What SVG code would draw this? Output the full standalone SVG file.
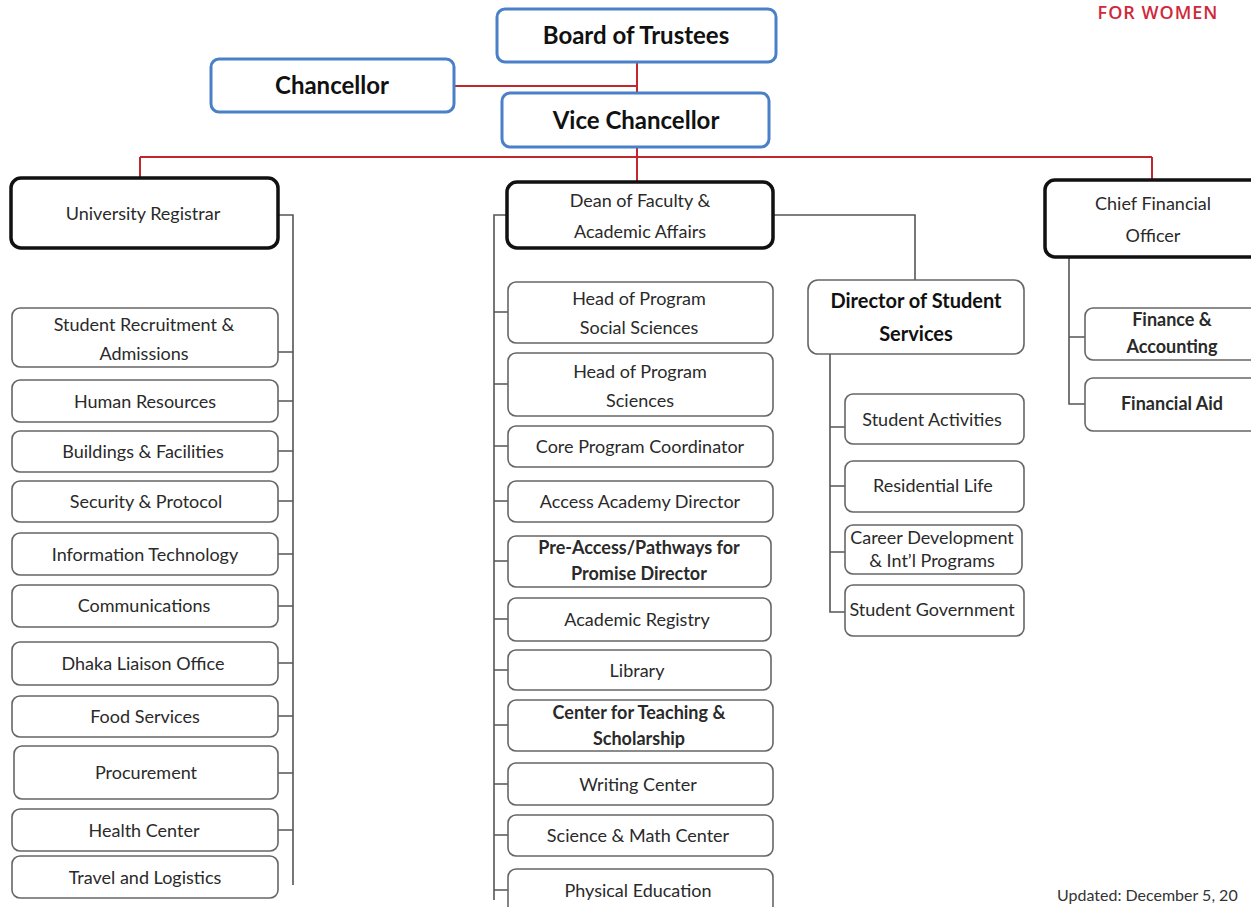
<svg xmlns="http://www.w3.org/2000/svg" width="1251" height="907" viewBox="0 0 1251 907">
<style>
.top{fill:#fff;stroke:#4a80c8;stroke-width:3}
.main{fill:#fff;stroke:#111;stroke-width:3.5}
.sub{fill:#fff;stroke:#666;stroke-width:1.6}
.tb{font-family:Lato,"Liberation Sans",sans-serif;font-weight:bold;fill:#111;text-anchor:middle}
.t{font-family:Lato,"Liberation Sans",sans-serif;fill:#2a2a2a;text-anchor:middle;font-size:18px}
.red{fill:none;stroke:#c0282e;stroke-width:2}
.con{fill:none;stroke:#555;stroke-width:1.6}
</style>
<rect width="1251" height="907" fill="#fff"/>
<text x="1158" y="19" font-family="Open Sans,'Liberation Sans',sans-serif" font-size="18" font-weight="600" letter-spacing="1" fill="#d0283a" text-anchor="middle">FOR WOMEN</text>
<text x="1057" y="901" font-family="Lato,'Liberation Sans',sans-serif" font-size="16" fill="#333">Updated: December 5, 20</text>

<g id="connectors">
<path class="red" d="M637 62V93M454 86H637M637 147V157M140 157H1152M140 157V178M637 157V182M1152 157V180"/>
<path class="con" d="M278 215H293V885M278 352H293M278 401H293M278 451H293M278 501H293M278 554H293M278 606H293M278 663H293M278 716H293M278 773H293M278 830H293"/>
<path class="con" d="M507 215H494V900M508 312H494M508 384H494M508 446H494M508 501H494M508 561H494M508 619H494M508 670H494M508 725H494M508 784H494M508 835H494M508 890H494"/>
<path class="con" d="M773 215H915V280M830 354V612H845M830 427H845M830 486H845M830 552H845"/>
<path class="con" d="M1069 257V404H1085M1069 337H1085"/>
</g>

<g id="board"><rect class="top" x="497" y="9" width="279" height="53" rx="8"/><text class="tb" x="636" y="44" font-size="24">Board of Trustees</text></g>
<g id="chancellor"><rect class="top" x="211" y="59" width="243" height="53" rx="8"/><text class="tb" x="332" y="94" font-size="24">Chancellor</text></g>
<g id="vice"><rect class="top" x="502" y="93" width="267" height="54" rx="8"/><text class="tb" x="636" y="129" font-size="24">Vice Chancellor</text></g>

<g id="registrar"><rect class="main" x="11" y="178" width="267" height="70" rx="10"/><text class="t" x="143" y="220" font-size="20">University Registrar</text></g>
<g id="dean"><rect class="main" x="507" y="182" width="266" height="66" rx="10"/><text class="t" x="640" y="207" font-size="20">Dean of Faculty &amp;</text><text class="t" x="640" y="238" font-size="20">Academic Affairs</text></g>
<g id="cfo"><rect class="main" x="1045" y="180" width="220" height="77" rx="10"/><text class="t" x="1153" y="210" font-size="20">Chief Financial</text><text class="t" x="1153" y="242" font-size="20">Officer</text></g>

<g id="l1"><rect class="sub" x="12" y="308" width="266" height="59" rx="8"/><text class="t" x="144" y="331">Student Recruitment &amp;</text><text class="t" x="144" y="360">Admissions</text></g>
<g id="l2"><rect class="sub" x="12" y="380" width="266" height="42" rx="8"/><text class="t" x="145" y="408">Human Resources</text></g>
<g id="l3"><rect class="sub" x="12" y="431" width="266" height="41" rx="8"/><text class="t" x="143" y="458">Buildings &amp; Facilities</text></g>
<g id="l4"><rect class="sub" x="12" y="481" width="266" height="41" rx="8"/><text class="t" x="146" y="508">Security &amp; Protocol</text></g>
<g id="l5"><rect class="sub" x="12" y="533" width="266" height="42" rx="8"/><text class="t" x="145" y="561">Information Technology</text></g>
<g id="l6"><rect class="sub" x="12" y="585" width="266" height="42" rx="8"/><text class="t" x="144" y="612">Communications</text></g>
<g id="l7"><rect class="sub" x="12" y="642" width="266" height="43" rx="8"/><text class="t" x="143" y="670">Dhaka Liaison Office</text></g>
<g id="l8"><rect class="sub" x="12" y="696" width="266" height="41" rx="8"/><text class="t" x="145" y="723">Food Services</text></g>
<g id="l9"><rect class="sub" x="14" y="746" width="264" height="53" rx="8"/><text class="t" x="146" y="779" font-size="16">Procurement</text></g>
<g id="l10"><rect class="sub" x="12" y="809" width="266" height="42" rx="8"/><text class="t" x="144" y="837">Health Center</text></g>
<g id="l11"><rect class="sub" x="12" y="856" width="266" height="42" rx="8"/><text class="t" x="145" y="884">Travel and Logistics</text></g>

<g id="m1"><rect class="sub" x="508" y="282" width="265" height="61" rx="8"/><text class="t" x="639" y="305">Head of Program</text><text class="t" x="639" y="334">Social Sciences</text></g>
<g id="m2"><rect class="sub" x="508" y="353" width="265" height="63" rx="8"/><text class="t" x="640" y="378">Head of Program</text><text class="t" x="640" y="407">Sciences</text></g>
<g id="m3"><rect class="sub" x="508" y="426" width="265" height="41" rx="8"/><text class="t" x="640" y="453">Core Program Coordinator</text></g>
<g id="m4"><rect class="sub" x="508" y="481" width="265" height="41" rx="8"/><text class="t" x="640" y="508">Access Academy Director</text></g>
<g id="m5"><rect class="sub" x="508" y="536" width="263" height="51" rx="8"/><text class="t" x="639" y="554" font-size="17" font-weight="bold" fill="#222">Pre-Access/Pathways for</text><text class="t" x="639" y="580" font-size="17" font-weight="bold" fill="#222">Promise Director</text></g>
<g id="m6"><rect class="sub" x="508" y="598" width="263" height="43" rx="8"/><text class="t" x="637" y="626">Academic Registry</text></g>
<g id="m7"><rect class="sub" x="508" y="650" width="263" height="40" rx="8"/><text class="t" x="637" y="677">Library</text></g>
<g id="m8"><rect class="sub" x="508" y="700" width="265" height="51" rx="8"/><text class="t" x="639" y="719" font-size="17" font-weight="bold" fill="#222">Center for Teaching &amp;</text><text class="t" x="639" y="745" font-size="17" font-weight="bold" fill="#222">Scholarship</text></g>
<g id="m9"><rect class="sub" x="508" y="763" width="265" height="42" rx="8"/><text class="t" x="638" y="791">Writing Center</text></g>
<g id="m10"><rect class="sub" x="508" y="815" width="265" height="41" rx="8"/><text class="t" x="638" y="842">Science &amp; Math Center</text></g>
<g id="m11"><rect class="sub" x="508" y="869" width="265" height="45" rx="8"/><text class="t" x="638" y="897">Physical Education</text></g>

<g id="dss"><rect class="sub" x="808" y="280" width="216" height="74" rx="10"/><text class="tb" x="916" y="308" font-size="20">Director of Student</text><text class="tb" x="916" y="341" font-size="20">Services</text></g>
<g id="s1"><rect class="sub" x="845" y="394" width="179" height="50" rx="8"/><text class="t" x="932" y="426">Student Activities</text></g>
<g id="s2"><rect class="sub" x="845" y="461" width="179" height="51" rx="8"/><text class="t" x="933" y="492">Residential Life</text></g>
<g id="s3"><rect class="sub" x="845" y="525" width="177" height="49" rx="8"/><text class="t" x="932" y="544" font-size="15">Career Development</text><text class="t" x="932" y="567" font-size="15">&amp; Int’l Programs</text></g>
<g id="s4"><rect class="sub" x="845" y="585" width="179" height="51" rx="8"/><text class="t" x="932" y="616" font-size="15">Student Government</text></g>

<g id="f1"><rect class="sub" x="1085" y="308" width="180" height="52" rx="8"/><text class="t" x="1172" y="326" font-size="17" font-weight="bold" fill="#222">Finance &amp;</text><text class="t" x="1172" y="353" font-size="17" font-weight="bold" fill="#222">Accounting</text></g>
<g id="f2"><rect class="sub" x="1085" y="378" width="180" height="53" rx="8"/><text class="t" x="1172" y="410" font-size="17" font-weight="bold" fill="#222">Financial Aid</text></g>
</svg>
